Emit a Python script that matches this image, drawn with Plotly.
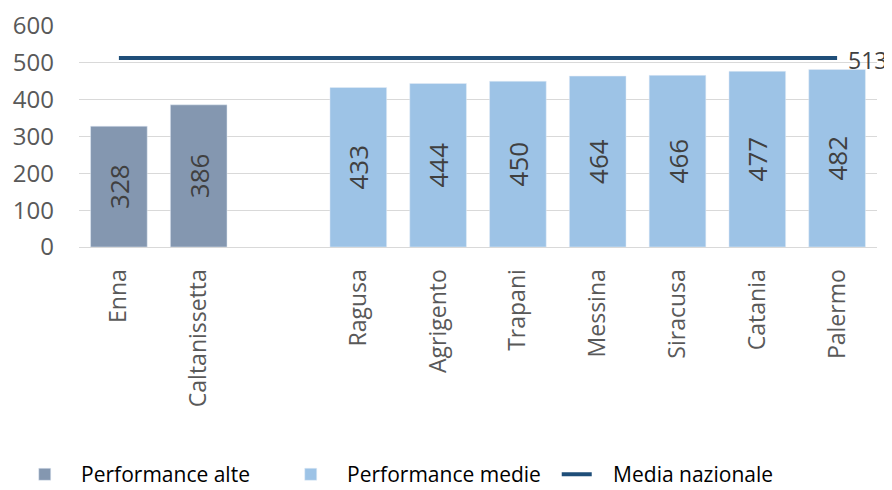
import plotly.graph_objects as go

# data
categories = ["Enna", "Caltanissetta", " ", "Ragusa", "Agrigento", "Trapani",
              "Messina", "Siracusa", "Catania", "Palermo"]
alte_names = ["Enna", "Caltanissetta"]
alte_values = [328, 386]
medie_names = ["Ragusa", "Agrigento", "Trapani", "Messina", "Siracusa", "Catania", "Palermo"]
medie_values = [433, 444, 450, 464, 466, 477, 482]
media_nazionale = 513

font_family = "'Open Sans', sans-serif"
pad = "\u00a0" * 3  # pushes legend text away from the symbol, as in the original

fig = go.Figure()

fig.add_trace(go.Bar(
    x=alte_names, y=alte_values, name=pad + "Performance alte",
    marker=dict(color="#8497B0"), width=0.71,
    text=alte_values, textposition="inside", insidetextanchor="middle",
    textangle=-90, textfont=dict(size=26, color="#404040", family=font_family),
    constraintext="none",
))
fig.add_trace(go.Bar(
    x=medie_names, y=medie_values, name=pad + "Performance medie",
    marker=dict(color="#9DC3E6"), width=0.71,
    text=medie_values, textposition="inside", insidetextanchor="middle",
    textangle=-90, textfont=dict(size=26, color="#404040", family=font_family),
    constraintext="none",
))
line_x = [c for c in categories if c.strip()]
fig.add_trace(go.Scatter(
    x=line_x, y=[media_nazionale] * len(line_x), name=pad + "Media nazionale",
    mode="lines", line=dict(color="#1F4E79", width=4),
))

fig.add_annotation(
    x="Palermo", y=media_nazionale, text=str(media_nazionale),
    showarrow=False, xanchor="left", xshift=9, yshift=-2,
    font=dict(size=23, color="#404040", family=font_family),
)

# page body adds an 8px offset, so the figure is drawn 8px smaller
fig.update_layout(
    width=884, height=482,
    margin=dict(l=71, r=15, t=18, b=243, autoexpand=False),
    plot_bgcolor="white", paper_bgcolor="white",
    barmode="overlay",
    font=dict(family=font_family, color="#595959"),
    xaxis=dict(
        type="category", categoryorder="array", categoryarray=categories,
        tickangle=-90, tickfont=dict(size=23, color="#595959"),
        showgrid=False, showline=True, linecolor="#D9D9D9", linewidth=1,
        ticks="", range=[-0.5, len(categories) - 0.5], ticklabelstandoff=12,
    ),
    yaxis=dict(
        range=[0, 600], dtick=100, tickfont=dict(size=24, color="#595959"),
        showgrid=True, gridcolor="#D9D9D9", gridwidth=1, zeroline=False,
        ticks="", ticklabelstandoff=24,
    ),
    legend=dict(
        orientation="h", x=-0.068, xanchor="left", y=-1.03, yanchor="middle",
        entrywidth=221,
        font=dict(size=21, color="#000000", family=font_family),
    ),
    showlegend=True,
)

fig.write_html("out.html")
